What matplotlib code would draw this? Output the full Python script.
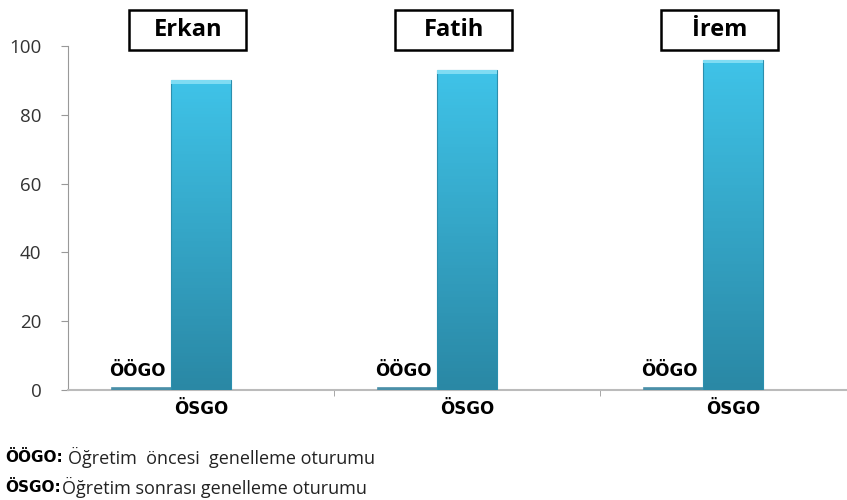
import numpy as np
import matplotlib
matplotlib.use("Agg")
import matplotlib.pyplot as plt
from matplotlib.colors import LinearSegmentedColormap
from matplotlib.patches import Rectangle

# data
students = ["Erkan", "Fatih", "İrem"]
oogo = [0.5, 0.5, 0.5]      # before teaching (near zero)
osgo = [90, 93, 96]         # after teaching
y_ticks = [0, 20, 40, 60, 80, 100]

plt.rcParams['font.family'] = ['Open Sans', 'DejaVu Sans']

fig = plt.figure(figsize=(8.47, 5.0), dpi=100)
ax = fig.add_axes([68 / 847, 0.22, 779 / 847, 0.688])

x = np.arange(len(students))
bw = 0.222
grad = LinearSegmentedColormap.from_list("g", ["#2a88a5", "#3fc3e8"])

for i in x:
	# before-teaching bar: thin line near the base
	ax.bar(i - 1.5 * bw, oogo[i], bw, align="edge", color="#4a8fa8", edgecolor="#4a8fa8", linewidth=1.2, zorder=3)
	# after-teaching bar with vertical gradient
	left = i - 0.5 * bw
	b = ax.bar(left, osgo[i], bw, align="edge", color="none", edgecolor="#2b8fae", linewidth=0.8, zorder=4)[0]
	img = np.linspace(0, 1, 100).reshape(-1, 1)
	im = ax.imshow(img, cmap=grad, aspect="auto", origin="lower",
		extent=[left, left + bw, 0, osgo[i]], zorder=3)
	im.set_clip_path(b)
	# cap highlight at the top
	ax.bar(left, 1.0, bw, bottom=osgo[i] - 1.0, align="edge", color="#7fdcf3", linewidth=0, zorder=4)

	ax.text(i - 1.55 * bw, 3, "ÖÖGO", fontsize=12, fontweight="bold", family="DejaVu Sans",
		ha="left", va="bottom", zorder=5)
	ax.text(i, -3, "ÖSGO", fontsize=12, fontweight="bold", family="DejaVu Sans",
		ha="center", va="top", zorder=5)

	# name box above each group
	cx = i - 0.05
	ax.add_patch(Rectangle((cx - 0.22, 98.8), 0.44, 11.7, facecolor="white", edgecolor="black",
		linewidth=1.8, clip_on=False, zorder=5))
	ax.text(cx, 104.6, students[i], fontsize=17, fontweight="bold", ha="center", va="center",
		clip_on=False, zorder=6)

ax.set_ylim(0, 100)
ax.set_xlim(-0.5, -0.5 + 779 / 266)
ax.set_yticks(y_ticks)
ax.set_yticklabels([str(v) for v in y_ticks], fontsize=13.5, color="#333333")
ax.set_xticks([])
ax.set_xticks([0.5, 1.5], minor=True)
ax.tick_params(axis="x", which="minor", length=4, color="#999999", direction="out")
ax.tick_params(axis="y", length=5, color="#999999", pad=14)

for s in ["top", "right"]:
	ax.spines[s].set_visible(False)
ax.spines["left"].set_color("#999999")
ax.spines["bottom"].set_color("#bbbbbb")
ax.spines["bottom"].set_linewidth(1.5)

# footnote legend
fig.text(5 / 847, 1 - 457 / 500, "ÖÖGO:", fontsize=11, fontweight="bold", family="DejaVu Sans", va="center")
fig.text(68 / 847, 1 - 457 / 500, "Öğretim  öncesi  genelleme oturumu", fontsize=13, va="center", color="#222222")
fig.text(5 / 847, 1 - 487 / 500, "ÖSGO:", fontsize=11, fontweight="bold", family="DejaVu Sans", va="center")
fig.text(62 / 847, 1 - 487 / 500, "Öğretim sonrası genelleme oturumu", fontsize=13, va="center", color="#222222")

fig.savefig("out.png", dpi=100)
